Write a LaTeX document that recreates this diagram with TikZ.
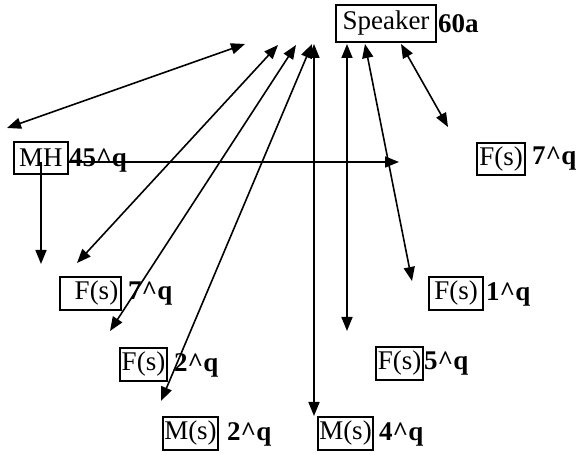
\documentclass[tikz,border=0pt]{standalone}
\usepackage{fontspec}
\setmainfont{Liberation Serif}
\usetikzlibrary{arrows.meta}
\tikzset{
  box/.style={draw=black, line width=1.5pt, inner sep=0pt, font=\fontsize{27}{32}\selectfont},
  lbl/.style={anchor=west, inner sep=0pt, font=\fontsize{27}{32}\selectfont\bfseries},
  conn/.style={line width=1.6pt, {Triangle[length=14pt,width=11pt]}-{Triangle[length=14pt,width=11pt]}},
  oneway/.style={line width=1.6pt, -{Triangle[length=14pt,width=11pt]}}
}
\begin{document}
\begin{tikzpicture}[x=1pt,y=-1pt]
\useasboundingbox (0,0) rectangle (579,454);
% boxes
\node[box, minimum width=100pt, minimum height=37pt] (spk) at (386,23.5) {Speaker};
\node[lbl] (spkl) at (438,24) {60a};
\node[box, minimum width=54pt, minimum height=32pt] (mh) at (41,158) {MH};
\node[lbl] (mhl) at (69,160) {45\textasciicircum q};
\node[box, minimum width=48pt, minimum height=32pt] (fr7) at (501,159) {F(s)};
\node[lbl] (fr7l) at (532,159) {7\textasciicircum q};
\node[box, minimum width=61pt, minimum height=33pt] (fl7) at (90.5,293.5) {\hspace*{12pt}F(s)};
\node[lbl] (fl7l) at (128,294) {7\textasciicircum q};
\node[box, minimum width=54pt, minimum height=33pt] (f1) at (456,293.5) {F(s)};
\node[lbl] (f1l) at (486,294) {1\textasciicircum q};
\node[box, minimum width=47pt, minimum height=33pt] (f5) at (399.5,363.5) {F(s)};
\node[lbl] (f5l) at (424,364) {5\textasciicircum q};
\node[box, minimum width=47pt, minimum height=33pt] (f2) at (143.5,364.5) {F(s)};
\node[lbl] (f2l) at (174,365) {2\textasciicircum q};
\node[box, minimum width=55pt, minimum height=33pt] (m2) at (190.5,433.5) {M(s)};
\node[lbl] (m2l) at (227,434) {2\textasciicircum q};
\node[box, minimum width=55pt, minimum height=33pt] (m4) at (345.5,433.5) {M(s)};
\node[lbl] (m4l) at (379,434) {4\textasciicircum q};
% connector end points
\coordinate (t1) at (245,44);  \coordinate (b1) at (7,128);
\coordinate (t2) at (278,45);  \coordinate (b2) at (77,263);
\coordinate (t3) at (296,45);  \coordinate (b3) at (110,331);
\coordinate (t4) at (312,44);  \coordinate (b4) at (161,401);
\coordinate (t5) at (314,44);  \coordinate (b5) at (314,416);
\coordinate (t6) at (347,44);  \coordinate (b6) at (347,331);
\coordinate (t7) at (365,44);  \coordinate (b7) at (412,281);
\coordinate (t8) at (401,44);  \coordinate (b8) at (448,127);
\coordinate (hs) at (68,162);  \coordinate (he) at (399,162);
\coordinate (vs) at (41,162);  \coordinate (ve) at (41,264);
% connectors
\draw[conn] (t1) -- (b1);
\draw[conn] (t2) -- (b2);
\draw[conn] (t3) -- (b3);
\draw[conn] (t4) -- (b4);
\draw[conn] (t5) -- (b5);
\draw[conn] (t6) -- (b6);
\draw[conn] (t7) -- (b7);
\draw[conn] (t8) -- (b8);
\draw[oneway] (hs) -- (he);
\draw[oneway] (vs) -- (ve);
\end{tikzpicture}
\end{document}
